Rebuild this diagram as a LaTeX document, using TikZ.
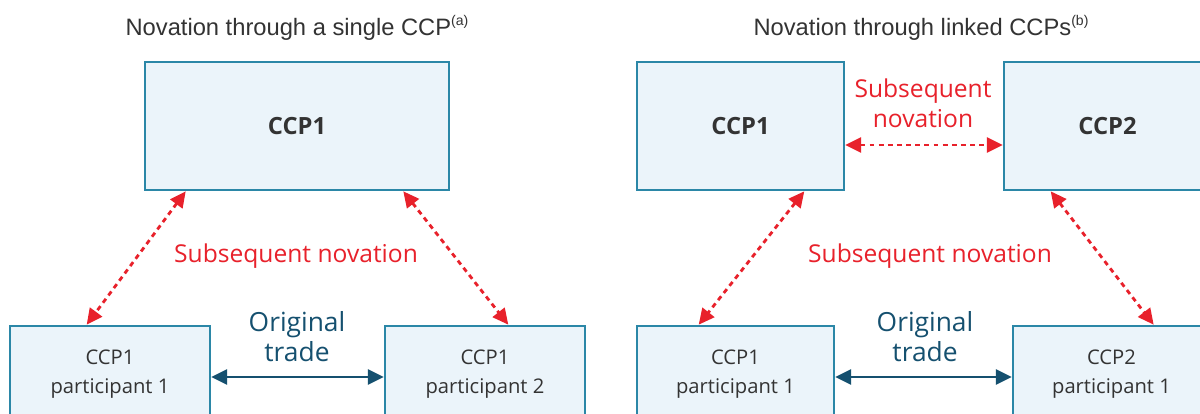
\documentclass[tikz,border=0pt]{standalone}
\usepackage{fontspec}
\setmainfont{Liberation Sans}
\newfontfamily\labelfont{Open Sans}
\usetikzlibrary{arrows.meta,positioning}
\definecolor{BoxFill}{HTML}{EBF4FA}
\definecolor{BoxLine}{HTML}{2B87A7}
\definecolor{NovRed}{HTML}{E8212B}
\definecolor{TradeBlue}{HTML}{15506F}
\definecolor{TextGray}{HTML}{333333}
\newcommand{\noteref}[1]{\raisebox{0.75ex}{\fontsize{8}{9}\selectfont(#1)}}
\tikzset{
  ccpbox/.style={draw=BoxLine, fill=BoxFill, line width=1.5pt, inner sep=0pt,
    minimum height=2.56cm, text=TextGray,
    font=\labelfont\bfseries\fontsize{13.5}{15}\selectfont},
  partbox/.style={draw=BoxLine, fill=BoxFill, line width=1.5pt, inner sep=0pt,
    minimum height=1.92cm, align=center, text=TextGray,
    font=\labelfont\fontsize{11.5}{16.5}\selectfont},
  novarrow/.style={draw=NovRed, line width=1.6pt, dash pattern=on 2.8pt off 2.4pt,
    {Triangle[length=9pt,width=8.5pt]}-{Triangle[length=9pt,width=8.5pt]}},
  tradearrow/.style={draw=TradeBlue, line width=1.6pt,
    {Triangle[length=9pt,width=8.5pt]}-{Triangle[length=9pt,width=8.5pt]}},
  novlabel/.style={text=NovRed, align=center, font=\labelfont\fontsize{14}{17}\selectfont},
  tradelabel/.style={text=TradeBlue, align=center, font=\labelfont\fontsize{15}{17}\selectfont},
  paneltitle/.style={text=TextGray, font=\fontsize{13.5}{15}\selectfont}
}
\begin{document}
\begin{tikzpicture}[x=0.02cm, y=-0.02cm]
  \clip (0,0) rectangle (1200,413);
  \fill[white] (0,0) rectangle (1200,413);

  % Single CCP
  \node[paneltitle] (titleA) at (297,28) {Novation through a single CCP\noteref{a}};
  \node[ccpbox, minimum width=6.08cm] (ccpA) at (297,126) {CCP1};
  \node[partbox, minimum width=4cm] (partA) at (110,374) {CCP1\\participant 1};
  \node[partbox, minimum width=4cm] (partB) at (485,374) {CCP1\\participant 2};
  \node[novlabel] (novA) at (296,256) {Subsequent novation};
  \node[tradelabel] (tradeA) at (297,337) {Original\\trade};
  \draw[novarrow] ([xshift=0.84cm]ccpA.south west) -- ([xshift=1.56cm]partA.north west);
  \draw[novarrow] ([xshift=-0.94cm]ccpA.south east) -- ([xshift=-1.56cm]partB.north east);
  \draw[tradearrow] ([yshift=-0.06cm]partA.east) -- ([yshift=-0.06cm]partB.west);

  % Linked CCPs
  \node[paneltitle] (titleB) at (921,28) {Novation through linked CCPs\noteref{b}};
  \node[ccpbox, minimum width=4.14cm] (ccpB) at (740.5,126) {CCP1};
  \node[ccpbox, minimum width=4.14cm] (ccpC) at (1107.5,126) {CCP2};
  \node[partbox, minimum width=3.94cm] (partC) at (735.5,374) {CCP1\\participant 1};
  \node[partbox, minimum width=3.94cm] (partD) at (1111.5,374) {CCP2\\participant 1};
  \node[novlabel] (novB) at (923,103) {Subsequent\\novation};
  \node[novlabel] (novC) at (930,256) {Subsequent novation};
  \node[tradelabel] (tradeB) at (925,337) {Original\\trade};
  \draw[novarrow] ([yshift=-0.38cm]ccpB.east) -- ([yshift=-0.38cm]ccpC.west);
  \draw[novarrow] ([xshift=-0.82cm]ccpB.south east) -- ([xshift=1.26cm]partC.north west);
  \draw[novarrow] ([xshift=0.96cm]ccpC.south west) -- ([xshift=2.84cm]partD.north west);
  \draw[tradearrow] ([yshift=-0.06cm]partC.east) -- ([yshift=-0.06cm]partD.west);
\end{tikzpicture}
\end{document}
